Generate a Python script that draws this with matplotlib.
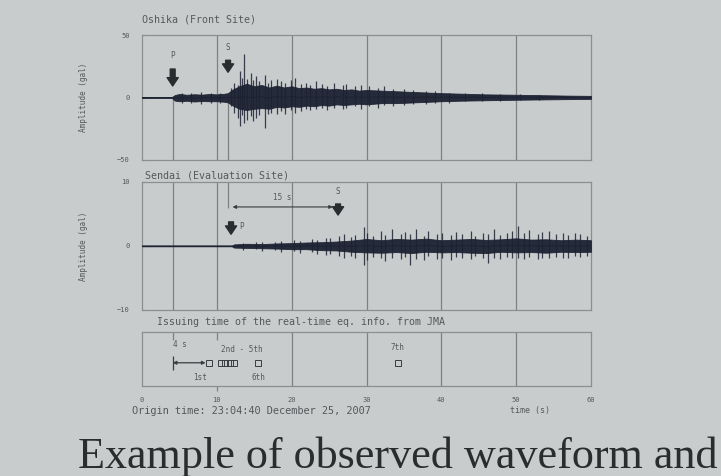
import matplotlib
matplotlib.use("Agg")
import matplotlib.pyplot as plt
import numpy as np

# ---------------- data ----------------
x_ticks = [0, 10, 20, 30, 40, 50, 60]

# Oshika (front site) – waveform body envelope (gal)
top_t     = [0, 4.0, 4.4, 5, 6, 7, 8, 9, 10, 11, 11.5, 12, 13, 14, 15, 16, 17, 18, 19, 20,
             21, 22, 23, 24, 25, 26, 27, 28, 29, 30, 32, 34, 36, 38, 40, 43, 46, 50, 54, 57, 60]
top_upper = [0.4, 0.4, 2, 2.8, 2.2, 2.6, 2.3, 2.8, 2.5, 3, 3.5, 6, 9, 11, 9, 10, 8, 9.5, 8, 9,
             7.5, 8, 7, 7.5, 6.5, 7, 6, 6.5, 5.5, 6, 5.5, 5, 4.5, 4, 3.5, 3, 2.5, 2.2, 1.8, 1.5, 1.3]
top_lower = [-0.4, -0.4, -2.5, -3, -2.6, -3.2, -2.8, -3, -3, -3.4, -4, -6, -9, -10, -9, -8.5, -9, -7.5, -8, -7,
             -7.5, -6.5, -7, -6, -6.5, -5.5, -6, -5.5, -5, -5.5, -4.5, -4.5, -4, -3.5, -3, -2.5, -2.2, -1.8, -1.5, -1.3, -1.1]
# Oshika – individual peaks (gal)
top_spike_t  = [5.3, 6.6, 7.9, 9.2, 10.4,
                11.9, 12.3, 12.8, 13.1, 13.4, 13.6, 14.0, 14.5, 14.8, 15.3,
                15.7, 16.4, 16.9, 17.3, 18.0, 18.6, 19.1, 19.9, 20.4, 21.2,
                21.9, 22.5, 23.3, 24.1, 24.7, 25.6, 26.8, 27.3, 28.5, 29.2,
                30.4, 31.5, 32.3, 33.6, 35.0, 36.2, 37.9, 39.1, 41.0, 43.2,
                45.5, 47.8, 50.5, 53.0]
top_spike_hi = [4, 3.5, 4.5, 3.5, 4,
                8, 12, 10, 21, 16, 35, 15, 20, 14, 17,
                13, 18, 12, 14, 15, 13, 12, 14, 16, 11,
                12, 10, 13, 11, 9, 12, 10, 11, 9, 10,
                9, 8, 9, 7, 7, 6, 5, 5, 4, 4,
                3.5, 3, 2.5, 2.2]
top_spike_lo = [-4.5, -4, -5, -4, -4.5,
                -7, -12, -16, -23, -14, -20, -18, -15, -19, -16,
                -14, -24, -13, -12, -13, -11, -13, -10, -12, -11,
                -9, -10, -9, -8, -10, -8, -9, -8, -7, -9,
                -7, -8, -6, -7, -6, -5, -5, -4, -4, -3,
                -3, -2.5, -2, -1.8]

# Sendai (evaluation site) – waveform body envelope
mid_t     = [0, 12.0, 12.3, 14, 16, 18, 20, 22, 24, 26, 28, 30, 32, 34, 36, 38, 40, 42, 44, 46,
             48, 50, 52, 54, 56, 58, 60]
mid_upper = [0.05, 0.05, 0.25, 0.35, 0.3, 0.4, 0.45, 0.55, 0.6, 0.7, 0.85, 1.1, 0.9, 1.1, 1.0, 1.15, 0.9, 1.0, 1.1, 0.95,
             1.05, 1.2, 1.0, 1.05, 0.9, 1.0, 0.9]
mid_lower = [-0.05, -0.05, -0.25, -0.3, -0.35, -0.4, -0.5, -0.5, -0.65, -0.7, -0.9, -1.0, -1.05, -0.95, -1.1, -0.9, -1.0, -0.95, -1.05, -1.1,
             -0.9, -1.0, -0.95, -1.05, -0.9, -0.95, -0.9]
# Sendai – individual peaks
mid_spike_t  = [13.5, 15.2, 16.1, 17.8, 18.6, 20.3, 21.1, 22.7, 23.4, 24.6,
                25.1, 26.3, 27.0, 27.9, 28.5, 29.6, 30.1, 30.9, 32.0, 32.5,
                33.4, 34.6, 35.1, 35.8, 36.6, 37.7, 38.2, 39.4, 40.1, 41.3,
                41.9, 42.8, 43.9, 44.5, 45.6, 46.2, 47.0, 47.9, 48.8, 49.5,
                50.2, 51.1, 51.7, 52.9, 53.5, 54.4, 55.3, 56.2, 56.9, 57.8,
                58.5, 59.4]
mid_spike_hi = [0.5, 0.6, 0.7, 0.6, 0.8, 0.9, 0.8, 1.1, 1.0, 1.3,
                1.2, 1.5, 1.8, 1.4, 1.7, 2.9, 2.0, 1.6, 2.4, 1.7,
                2.6, 1.8, 2.2, 1.9, 2.7, 1.6, 2.3, 1.8, 2.0, 1.7,
                2.2, 1.9, 2.3, 1.6, 2.0, 1.8, 2.6, 1.7, 2.1, 2.4,
                3.1, 2.0, 2.5, 1.8, 2.2, 2.4, 1.9, 2.1, 1.7, 2.0,
                1.8, 1.6]
mid_spike_lo = [-0.6, -0.5, -0.8, -0.7, -0.9, -0.8, -1.1, -0.9, -1.2, -1.4,
                -1.3, -1.6, -1.9, -1.5, -1.8, -3.0, -2.2, -1.7, -1.9, -2.4,
                -1.8, -2.0, -1.7, -3.0, -2.0, -2.2, -1.6, -2.0, -1.8, -2.2,
                -1.7, -1.9, -2.0, -1.6, -1.9, -2.6, -1.8, -2.0, -1.7, -1.9,
                -1.8, -2.0, -1.7, -2.1, -1.8, -1.9, -1.7, -1.8, -1.9, -1.6,
                -1.7, -1.5]

# JMA real-time info issuing times (s)
issue_t = [8.9, 10.5, 11.1, 11.7, 12.3, 15.5, 34.2]

p_top, s_top = 4.1, 11.5
p_mid, s_mid = 11.9, 26.2

# ---------------- style ----------------
BG = "#c9cccd"
WAVE = "#1d2233"
GRID = "#7e8081"
SPINE = "#8c8e8f"
TXT = "#56585b"
MONO = "DejaVu Sans Mono"

fig = plt.figure(figsize=(7.21, 4.76), dpi=100, facecolor=BG)


def px_axes(x0, y0, x1, y1):
    return fig.add_axes([x0 / 721, 1 - y1 / 476, (x1 - x0) / 721, (y1 - y0) / 476])


ax1 = px_axes(142, 35, 591, 160)
ax2 = px_axes(142, 182, 591, 310)
ax3 = px_axes(142, 332, 591, 386)

for ax in (ax1, ax2, ax3):
    ax.set_facecolor(BG)
    ax.set_xlim(x_ticks[0], x_ticks[-1])
    for sp in ax.spines.values():
        sp.set_color(SPINE)
        sp.set_linewidth(0.9)
    ax.tick_params(axis="both", length=2, direction="in", color=SPINE,
                   labelsize=5, labelcolor=TXT, pad=9)
    for lab in ax.get_yticklabels() + ax.get_xticklabels():
        lab.set_family(MONO)


def draw_wave(ax, t, lo, hi, st, shi, slo):
    ax.fill_between(t, lo, hi, color=WAVE, lw=0.6, zorder=3, alpha=0.95)
    ax.plot(t, (np.array(hi) + np.array(lo)) / 2, color=WAVE, lw=0.7, zorder=3)
    ax.vlines(st, 0, shi, color=WAVE, lw=0.9, zorder=3, alpha=0.85)
    ax.vlines(st, 0, slo, color=WAVE, lw=0.9, zorder=3, alpha=0.85)


arrow_kw = dict(arrowstyle="simple,head_length=0.6,head_width=0.8,tail_width=0.35",
                color="#2a2c30", mutation_scale=10)

# ---- top panel ----
ax1.set_ylim(-50, 50)
ax1.set_yticks([-50, 0, 50])
ax1.set_xticks([])
for xv in x_ticks[1:-1]:
    ax1.axvline(xv, color=GRID, lw=0.9, zorder=1)
ax1.vlines([p_top, s_top], -50, 0, color=GRID, lw=0.9, zorder=1)
draw_wave(ax1, top_t, top_lower, top_upper, top_spike_t, top_spike_hi, top_spike_lo)
ax1.annotate("", xy=(p_top, 7), xytext=(p_top, 25), arrowprops=arrow_kw)
ax1.annotate("", xy=(s_top, 18), xytext=(s_top, 32), arrowprops=arrow_kw)
ax1.text(p_top, 34, "P", ha="center", va="center", fontsize=5.5, color=TXT, family=MONO)
ax1.text(s_top, 40, "S", ha="center", va="center", fontsize=5.5, color=TXT, family=MONO)
ax1.set_ylabel("Amplitude (gal)", fontsize=5.5, color=TXT, family=MONO)
ax1.yaxis.set_label_coords(-0.12, 0.5)

# ---- middle panel ----
ax2.set_ylim(-10, 10)
ax2.set_yticks([-10, 0, 10])
ax2.set_xticks([])
for xv in [p_top] + x_ticks[1:-1]:
    ax2.axvline(xv, color=GRID, lw=0.9, zorder=1)
ax2.vlines([11.5], 6.0, 10, color=GRID, lw=0.9, zorder=1)
draw_wave(ax2, mid_t, mid_lower, mid_upper, mid_spike_t, mid_spike_hi, mid_spike_lo)
ax2.annotate("", xy=(p_mid, 1.4), xytext=(p_mid, 4.2), arrowprops=arrow_kw)
ax2.annotate("", xy=(s_mid, 4.4), xytext=(s_mid, 7.0), arrowprops=arrow_kw)
ax2.annotate("", xy=(12.1, 6.1), xytext=(25.5, 6.1),
             arrowprops=dict(arrowstyle="<|-|>", color="#3a3c40", lw=0.8,
                             mutation_scale=5, shrinkA=0, shrinkB=0))
ax2.text(13.0, 3.1, "P", ha="left", va="center", fontsize=5.5, color=TXT, family=MONO)
ax2.text(s_mid, 8.5, "S", ha="center", va="center", fontsize=5.5, color=TXT, family=MONO)
ax2.text(18.7, 7.6, "15 s", ha="center", va="center", fontsize=5.5, color=TXT, family=MONO)
ax2.set_ylabel("Amplitude (gal)", fontsize=5.5, color=TXT, family=MONO)
ax2.yaxis.set_label_coords(-0.12, 0.5)

# ---- bottom panel ----
ax3.set_ylim(0, 1)
ax3.set_yticks([])
ax3.set_xticks(x_ticks)
ax3.tick_params(axis="x", length=0, pad=8)
for xv in x_ticks[2:-1]:
    ax3.axvline(xv, color=GRID, lw=0.9, zorder=1)
ax3.vlines([p_top, 10], 0.85, 1.0, color=GRID, lw=0.9)
ax3.vlines([10], -0.1, 0.0, color=GRID, lw=0.9, clip_on=False)
ax3.vlines([p_top], 0.3, 0.56, color="#3a3c40", lw=0.9)
ax3.annotate("", xy=(p_top, 0.43), xytext=(issue_t[0] - 0.4, 0.43),
             arrowprops=dict(arrowstyle="<|-|>", color="#3a3c40", lw=0.9,
                             mutation_scale=5, shrinkA=0, shrinkB=0))
ax3.plot(issue_t, [0.43] * len(issue_t), ls="none", marker="s", ms=4.5,
         mfc="none", mec="#3a3c40", mew=0.7)
ax3.text(5.1, 0.76, "4 s", ha="center", va="center", fontsize=5.5, color=TXT, family=MONO)
ax3.text(7.8, 0.15, "1st", ha="center", va="center", fontsize=5.5, color=TXT, family=MONO)
ax3.text(13.3, 0.67, "2nd - 5th", ha="center", va="center", fontsize=5.5, color=TXT, family=MONO)
ax3.text(issue_t[5], 0.15, "6th", ha="center", va="center", fontsize=5.5, color=TXT, family=MONO)
ax3.text(issue_t[6], 0.71, "7th", ha="center", va="center", fontsize=5.5, color=TXT, family=MONO)

# ---- titles and captions ----
fig.text(142 / 721, 1 - 20 / 476, "Oshika (Front Site)", fontsize=7.2, color=TXT,
         family=MONO, va="center", ha="left")
fig.text(145 / 721, 1 - 175 / 476, "Sendai (Evaluation Site)", fontsize=7.2, color=TXT,
         family=MONO, va="center", ha="left")
fig.text(157 / 721, 1 - 322 / 476, "Issuing time of the real-time eq. info. from JMA",
         fontsize=7.2, color=TXT, family=MONO, va="center", ha="left")
fig.text(132 / 721, 1 - 411 / 476, "Origin time: 23:04:40 December 25, 2007",
         fontsize=7.4, color=TXT, family=MONO, va="center", ha="left")
fig.text(530 / 721, 1 - 411 / 476, "time (s)", fontsize=6, color=TXT,
         family=MONO, va="center", ha="center")
fig.text(78 / 721, 1 - 468 / 476, "Example of observed waveform and", fontsize=31.8,
         color="#2b2c2e", family="Liberation Serif", va="baseline", ha="left")

fig.savefig("out.png", dpi=100, facecolor=BG)
